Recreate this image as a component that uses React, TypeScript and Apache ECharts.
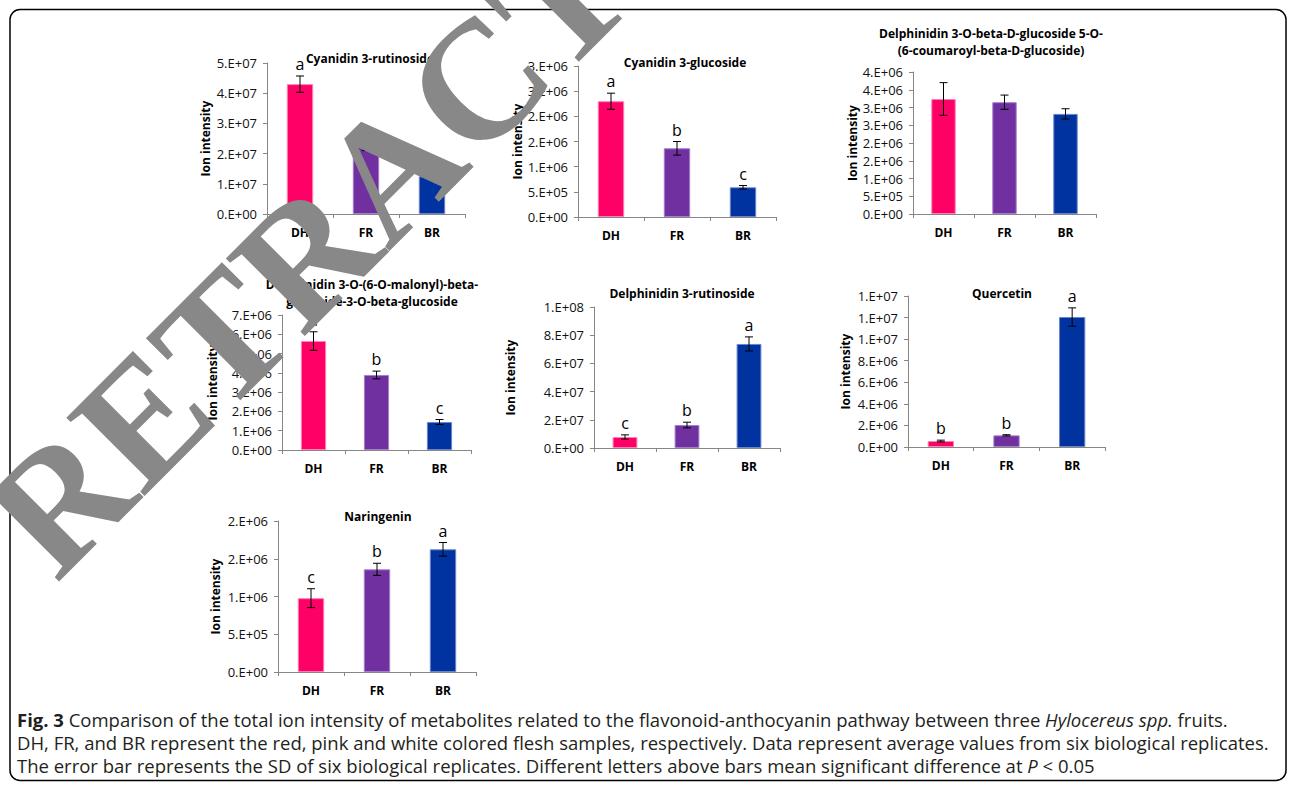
import React, { useEffect, useRef } from 'react';
import * as echarts from 'echarts';

// ---------- data ----------
const categories = ['DH', 'FR', 'BR'];
const barColors = ['#FF0066', '#7030A0', '#0033A0'];
const barBorders = ['#ff7fb2', '#a47fca', '#6d84c8'];

const panelTitles = [
  'Cyanidin 3-rutinoside',
  'Cyanidin 3-glucoside',
  'Delphinidin 3-O-beta-D-glucoside 5-O-\n(6-coumaroyl-beta-D-glucoside)',
  'Delphinidin 3-O-(6-O-malonyl)-beta-\nglucoside-3-O-beta-glucoside',
  'Delphinidin 3-rutinoside',
  'Quercetin',
  'Naringenin',
];

const cyanidinRutinosideMean = [4.3e7, 2.25e7, 1.25e7];
const cyanidinRutinosideSD = [0.27e7, 0.15e7, 0.1e7];
const cyanidinRutinosideLetters = ['a', 'b', 'c'];

const cyanidinGlucosideMean = [2.3e6, 1.365e6, 0.59e6];
const cyanidinGlucosideSD = [0.16e6, 0.135e6, 0.035e6];
const cyanidinGlucosideLetters = ['a', 'b', 'c'];

const delphCoumaroylMean = [3.24e6, 3.15e6, 2.82e6];
const delphCoumaroylSD = [0.46e6, 0.2e6, 0.145e6];
const delphCoumaroylLetters = ['', '', ''];

const delphMalonylMean = [5.65e6, 3.89e6, 1.45e6];
const delphMalonylSD = [0.48e6, 0.2e6, 0.13e6];
const delphMalonylLetters = ['a', 'b', 'c'];

const delphRutinosideMean = [0.78e7, 1.63e7, 7.38e7];
const delphRutinosideSD = [0.15e7, 0.2e7, 0.5e7];
const delphRutinosideLetters = ['c', 'b', 'a'];

const quercetinMean = [0.555e6, 1.08e6, 12.05e6];
const quercetinSD = [0.08e6, 0.06e6, 0.85e6];
const quercetinLetters = ['b', 'b', 'a'];

const naringeninMean = [0.978e6, 1.36e6, 1.625e6];
const naringeninSD = [0.125e6, 0.08e6, 0.09e6];
const naringeninLetters = ['c', 'b', 'a'];

const yMax = [5e7, 3e6, 4e6, 7e6, 1e8, 1.4e7, 2e6];
const yInterval = [1e7, 5e5, 5e5, 1e6, 2e7, 2e6, 5e5];

const yAxisName = 'Ion intensity';

const captionLines = [
  '{b|Fig. 3} Comparison of the total ion intensity of metabolites related to the flavonoid-anthocyanin pathway between three {i|Hylocereus spp.} fruits.',
  'DH, FR, and BR represent the red, pink and white colored flesh samples, respectively. Data represent average values from six biological replicates.',
  'The error bar represents the SD of six biological replicates. Different letters above bars mean significant difference at {i|P} < 0.05',
];

const watermarkText = 'RETRACTED';

// ---------- layout ----------
const grids = [
  { left: 267, top: 63, width: 198, height: 151 },
  { left: 578, top: 66, width: 198, height: 151 },
  { left: 913, top: 72, width: 183, height: 142 },
  { left: 282, top: 315, width: 189, height: 135 },
  { left: 594, top: 307, width: 186, height: 141 },
  { left: 908, top: 296, width: 197, height: 151 },
  { left: 278, top: 521, width: 198, height: 151 },
];
const titlePos = [
  [370, 58], [685, 62], [991, 42], [372, 293], [682, 293], [1002, 293], [378, 516],
];
const nameGaps = [56, 55, 53, 64, 78, 57, 57];

const panels = [
  [cyanidinRutinosideMean, cyanidinRutinosideSD, cyanidinRutinosideLetters],
  [cyanidinGlucosideMean, cyanidinGlucosideSD, cyanidinGlucosideLetters],
  [delphCoumaroylMean, delphCoumaroylSD, delphCoumaroylLetters],
  [delphMalonylMean, delphMalonylSD, delphMalonylLetters],
  [delphRutinosideMean, delphRutinosideSD, delphRutinosideLetters],
  [quercetinMean, quercetinSD, quercetinLetters],
  [naringeninMean, naringeninSD, naringeninLetters],
] as [number[], number[], string[]][];

const FONT = 'Open Sans';

function excelSci(v: number): string {
  if (Math.abs(v) < 1e-9) return '0.E+00';
  let e = Math.floor(Math.log10(Math.abs(v)) + 1e-9);
  let m = Math.round(v / Math.pow(10, e) + 1e-9);
  if (m >= 10) { m = 1; e += 1; }
  return m + '.E' + (e < 0 ? '-' : '+') + String(Math.abs(e)).padStart(2, '0');
}

export default function App() {
  const ref = useRef<HTMLDivElement>(null);
  useEffect(() => {
    if (!ref.current) return;
    const chart = echarts.init(ref.current, undefined, { renderer: 'svg' });

    const xAxis: any[] = [];
    const yAxis: any[] = [];
    const series: any[] = [];
    const graphic: any[] = [];

    panels.forEach(([mean, sd, letters], k) => {
      xAxis.push({
        type: 'category',
        gridIndex: k,
        data: categories,
        axisLine: { lineStyle: { color: '#868686', width: 1 } },
        axisTick: { show: true, length: 4, lineStyle: { color: '#868686' } },
        axisLabel: { margin: 12, color: '#000', fontFamily: FONT, fontWeight: 'bold', fontSize: 12 },
        splitLine: { show: false },
      });
      yAxis.push({
        type: 'value',
        gridIndex: k,
        min: 0,
        max: yMax[k],
        interval: yInterval[k],
        name: yAxisName,
        nameLocation: 'middle',
        nameRotate: 90,
        nameGap: nameGaps[k],
        nameTextStyle: { fontFamily: FONT, fontWeight: 'bold', fontSize: 12, color: '#000' },
        axisLine: { show: true, lineStyle: { color: '#868686', width: 1 } },
        axisTick: { show: true, length: 4, lineStyle: { color: '#868686' } },
        axisLabel: { margin: 10, color: '#111', fontFamily: FONT, fontSize: 13, formatter: (v: number) => excelSci(v) },
        splitLine: { show: false },
      });
      series.push({
        type: 'bar',
        xAxisIndex: k,
        yAxisIndex: k,
        barWidth: '40%',
        data: mean.map((v, i) => ({
          value: v,
          itemStyle: { color: barColors[i], borderColor: barBorders[i], borderWidth: 1 },
        })),
      });
      series.push({
        type: 'custom',
        xAxisIndex: k,
        yAxisIndex: k,
        z: 5,
        data: mean.map((v, i) => [i, v, sd[i]]),
        encode: { x: 0, y: 1 },
        renderItem: (params: any, api: any) => {
          const idx = api.value(0);
          const m = api.value(1);
          const s = api.value(2);
          const top = api.coord([idx, m + s]);
          const bot = api.coord([idx, m - s]);
          const hw = 4;
          const ls = { stroke: '#000', lineWidth: 1 };
          const children: any[] = [
            { type: 'line', shape: { x1: top[0], y1: top[1], x2: bot[0], y2: bot[1] }, style: ls },
            { type: 'line', shape: { x1: top[0] - hw, y1: top[1], x2: top[0] + hw, y2: top[1] }, style: ls },
            { type: 'line', shape: { x1: bot[0] - hw, y1: bot[1], x2: bot[0] + hw, y2: bot[1] }, style: ls },
          ];
          const letter = letters[params.dataIndex];
          if (letter) {
            children.push({
              type: 'text',
              x: top[0],
              y: top[1] - 4,
              style: {
                text: letter,
                fill: '#000',
                fontFamily: FONT,
                fontSize: 16,
                align: 'center',
                verticalAlign: 'bottom',
              },
            });
          }
          return { type: 'group', children };
        },
      });
      graphic.push({
        type: 'text',
        x: titlePos[k][0],
        y: titlePos[k][1],
        style: {
          text: panelTitles[k],
          fill: '#000',
          fontFamily: FONT,
          fontWeight: 'bold',
          fontSize: 12,
          lineHeight: 17,
          align: 'center',
          verticalAlign: 'middle',
        },
      });
    });

    // caption
    const capFont = 18.5;
    graphic.push({
      type: 'text',
      x: 17,
      y: 707.5,
      style: {
        text: captionLines.join('\n'),
        fill: '#231f20',
        fontFamily: FONT,
        fontSize: capFont,
        lineHeight: 23,
        align: 'left',
        verticalAlign: 'top',
        rich: {
          b: { fontFamily: FONT, fontSize: capFont, fontWeight: 'bold', fill: '#231f20', lineHeight: 23 },
          i: { fontFamily: FONT, fontSize: capFont, fontStyle: 'italic', fill: '#231f20', lineHeight: 23 },
        },
      },
    });

    // frame
    graphic.push({
      type: 'rect',
      shape: { x: 10, y: 9.5, width: 1276, height: 771, r: 10 },
      style: { fill: 'none', stroke: '#000', lineWidth: 1.5 },
      z: 1,
    });

    // watermark
    graphic.push({
      type: 'text',
      x: 16,
      y: 544,
      rotation: (45 * Math.PI) / 180,
      z: 100,
      style: {
        text: watermarkText,
        fill: '#888888',
        fontFamily: 'Liberation Serif',
        fontWeight: 'bold',
        fontSize: 169,
        align: 'left',
        verticalAlign: 'middle',
      },
    });

    chart.setOption({
      animation: false,
      backgroundColor: '#fff',
      grid: grids.map((g) => ({ ...g, containLabel: false })),
      xAxis,
      yAxis,
      series,
      graphic,
    });
    return () => chart.dispose();
  }, []);
  return <div ref={ref} style={{ position: 'absolute', left: 0, top: 0, width: 1295, height: 789 }} />;
}
